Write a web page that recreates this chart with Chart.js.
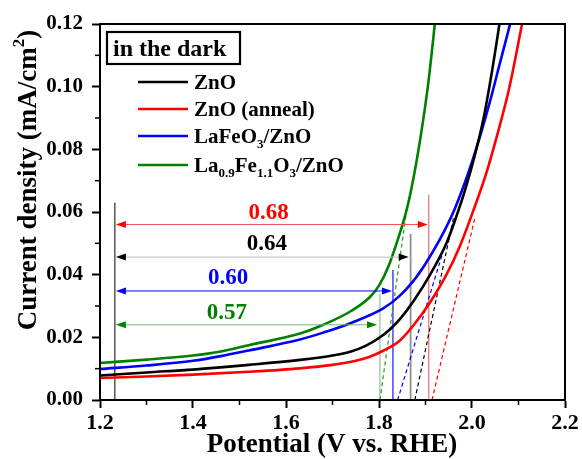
<!DOCTYPE html>
<html>
<head>
<meta charset="utf-8">
<script src="https://cdn.jsdelivr.net/npm/chart.js@4/dist/chart.umd.min.js"></script>
<style>
html,body{margin:0;padding:0;background:#fff;}
canvas{display:block;}
</style>
</head>
<body>
<canvas id="c" width="582" height="459"></canvas>
<script>
// ---- data ----
const seriesNames = ['ZnO', 'ZnO (anneal)', 'LaFeO3/ZnO', 'La0.9Fe1.1O3/ZnO'];
const seriesColors = ['#000000', '#ff0000', '#0000ff', '#008000'];

const znoX = [1.20, 1.30, 1.40, 1.52, 1.63, 1.70, 1.74, 1.77, 1.80, 1.824, 1.845, 1.874, 1.91, 1.945, 1.965, 1.985, 2.005, 2.025, 2.042, 2.058, 2.066];
const znoY = [0.0078, 0.0088, 0.0097, 0.0112, 0.0128, 0.0142, 0.0155, 0.0172, 0.0198, 0.0226, 0.0258, 0.0315, 0.0400, 0.0500, 0.0580, 0.0670, 0.0775, 0.0900, 0.1040, 0.1190, 0.1270];

const annealX = [1.20, 1.30, 1.40, 1.52, 1.63, 1.70, 1.74, 1.78, 1.81, 1.845, 1.875, 1.91, 1.945, 1.975, 2.003, 2.032, 2.055, 2.08, 2.105, 2.115];
const annealY = [0.0070, 0.0075, 0.0081, 0.0090, 0.0101, 0.0112, 0.0122, 0.0138, 0.0158, 0.0190, 0.0240, 0.0312, 0.0400, 0.0495, 0.0605, 0.0730, 0.0850, 0.0995, 0.1180, 0.1260];

const lfoX = [1.20, 1.30, 1.40, 1.46, 1.52, 1.63, 1.68, 1.74, 1.81, 1.845, 1.874, 1.90, 1.93, 1.96, 1.98, 2.00, 2.02, 2.04, 2.06, 2.082, 2.092];
const lfoY = [0.0099, 0.0110, 0.0125, 0.0140, 0.0158, 0.0193, 0.0215, 0.0246, 0.0293, 0.0333, 0.0380, 0.0435, 0.0510, 0.0600, 0.0675, 0.0760, 0.0855, 0.0960, 0.1075, 0.1200, 0.1260];

const lfo2X = [1.20, 1.30, 1.40, 1.46, 1.52, 1.63, 1.68, 1.74, 1.78, 1.80, 1.82, 1.84, 1.86, 1.875, 1.89, 1.905, 1.92, 1.928];
const lfo2Y = [0.0118, 0.0129, 0.0142, 0.0155, 0.0175, 0.0212, 0.0240, 0.0284, 0.0328, 0.0365, 0.0425, 0.0510, 0.0610, 0.0715, 0.0845, 0.1000, 0.1200, 0.1320];

// tangent (dashed) lines: x-intercept, and top end point
const tangentX0 = [1.877, 1.914, 1.840, 1.802];
const tangentX1 = [1.960, 2.006, 1.935, 1.858];
const tangentY1 = [0.058, 0.058, 0.046, 0.059];

// onset markers (vertical lines) and gap arrows
const refX = 1.232, refTop = 0.063;
const gapLabels = ['0.68', '0.64', '0.60', '0.57'];
const gapColors = ['#ff0000', '#000000', '#0000ff', '#008000'];
const gapLineColors = ['#f05050', '#bdbdbd', '#0000ff', '#70b870'];
const onsetX = [1.907, 1.868, 1.830, 1.802];
const onsetTop = [0.0655, 0.053, 0.0415, 0.034];
const onsetColors = ['#e86060', '#909090', '#0000ff', '#80c080'];
const arrowY = [0.056, 0.0456, 0.0348, 0.024];
const arrowEnd = [1.907, 1.866, 1.830, 1.798];
const labelX = [1.5628, 1.559, 1.4753, 1.4731];
const labelY = [0.0601, 0.0501, 0.0393, 0.0281];

const xTicks = [1.2, 1.4, 1.6, 1.8, 2.0, 2.2];
const yTicks = [0.00, 0.02, 0.04, 0.06, 0.08, 0.10, 0.12];

// ---- build ----
const FONT = '"Liberation Serif", "Times New Roman", serif';
const pts = (xs, ys) => xs.map((x, i) => ({x: x, y: ys[i]}));
const curveData = [pts(znoX, znoY), pts(annealX, annealY), pts(lfoX, lfoY), pts(lfo2X, lfo2Y)];
const tangentColors = ['#000000', '#ff0000', '#0000ff', '#2a9a2a'];

const datasets = [];
curveData.forEach((d, i) => datasets.push({
  label: seriesNames[i], data: d, borderColor: seriesColors[i], borderWidth: 2.6,
  pointRadius: 0, showLine: true, cubicInterpolationMode: 'monotone', fill: false
}));
tangentX0.forEach((x0, i) => datasets.push({
  label: 'tangent' + i, data: [{x: x0, y: 0}, {x: tangentX1[i], y: tangentY1[i]}],
  borderColor: tangentColors[i], borderWidth: 1.2, borderDash: [4, 3],
  pointRadius: 0, showLine: true, fill: false
}));
onsetX.forEach((x, i) => datasets.push({
  label: 'onset' + i, data: [{x: x, y: 0}, {x: x, y: onsetTop[i]}],
  borderColor: onsetColors[i], borderWidth: i === 1 ? 1.8 : 1.1,
  pointRadius: 0, showLine: true, fill: false
}));
datasets.push({
  label: 'ref', data: [{x: refX, y: 0}, {x: refX, y: refTop}],
  borderColor: '#000', borderWidth: 1, pointRadius: 0, showLine: true, fill: false
});

function arrowHead(ctx, x, y, dir, color) {
  ctx.save();
  ctx.fillStyle = color;
  ctx.beginPath();
  ctx.moveTo(x, y);
  ctx.lineTo(x - dir * 10, y - 3.5);
  ctx.lineTo(x - dir * 10, y + 3.5);
  ctx.closePath();
  ctx.fill();
  ctx.restore();
}

// draws text pieces [text, isSub] starting at x (left), baseline y
function richText(ctx, parts, x, y, size) {
  let cx = x;
  parts.forEach(p => {
    if (p[1]) {
      ctx.font = 'bold ' + Math.round(size * 0.62) + 'px ' + FONT;
      ctx.fillText(p[0], cx, y + size * 0.22);
    } else {
      ctx.font = 'bold ' + size + 'px ' + FONT;
      ctx.fillText(p[0], cx, y);
    }
    cx += ctx.measureText(p[0]).width;
  });
  return cx - x;
}

const decor = {
  id: 'decor',
  afterDraw(chart) {
    const ctx = chart.ctx, xs = chart.scales.x, ys = chart.scales.y, a = chart.chartArea;
    ctx.save();
    // frame
    ctx.strokeStyle = '#000'; ctx.lineWidth = 2;
    ctx.strokeRect(a.left, a.top, a.right - a.left, a.bottom - a.top);
    // minor ticks
    ctx.lineWidth = 1.5;
    for (let i = 0; i < xTicks.length - 1; i++) {
      const px = xs.getPixelForValue((xTicks[i] + xTicks[i + 1]) / 2);
      ctx.beginPath(); ctx.moveTo(px, a.bottom); ctx.lineTo(px, a.bottom + 5); ctx.stroke();
    }
    for (let i = 0; i < yTicks.length - 1; i++) {
      const py = ys.getPixelForValue((yTicks[i] + yTicks[i + 1]) / 2);
      ctx.beginPath(); ctx.moveTo(a.left, py); ctx.lineTo(a.left - 5, py); ctx.stroke();
    }
    // gap arrows
    const x0 = xs.getPixelForValue(refX);
    arrowY.forEach((v, i) => {
      const py = ys.getPixelForValue(v);
      const x1 = xs.getPixelForValue(arrowEnd[i]);
      ctx.strokeStyle = gapLineColors[i]; ctx.lineWidth = 1;
      ctx.beginPath(); ctx.moveTo(x0 + 4, py); ctx.lineTo(x1 - 4, py); ctx.stroke();
      arrowHead(ctx, x0 + 1, py, -1, gapColors[i]);
      arrowHead(ctx, x1 - 1, py, 1, gapColors[i]);
      ctx.fillStyle = gapColors[i];
      ctx.font = 'bold 23px ' + FONT;
      ctx.textAlign = 'center'; ctx.textBaseline = 'middle';
      ctx.fillText(gapLabels[i], xs.getPixelForValue(labelX[i]), ys.getPixelForValue(labelY[i]) + 1);
    });
    // legend
    ctx.textAlign = 'left'; ctx.textBaseline = 'alphabetic';
    ctx.lineWidth = 2.2; ctx.strokeStyle = '#000';
    ctx.strokeRect(107, 32, 133, 32);
    ctx.fillStyle = '#000';
    ctx.font = 'bold 24px ' + FONT;
    ctx.fillText('in the dark', 113, 56);
    const rowsY = [82, 109, 136, 165];
    const labels = [
      [['ZnO', false]],
      [['ZnO (anneal)', false]],
      [['LaFeO', false], ['3', true], ['/ZnO', false]],
      [['La', false], ['0.9', true], ['Fe', false], ['1.1', true], ['O', false], ['3', true], ['/ZnO', false]]
    ];
    rowsY.forEach((ry, i) => {
      ctx.strokeStyle = seriesColors[i]; ctx.lineWidth = 2.6;
      ctx.beginPath(); ctx.moveTo(138, ry); ctx.lineTo(188, ry); ctx.stroke();
      ctx.fillStyle = '#000';
      richText(ctx, labels[i], 194, ry + 7, 21);
    });
    // axis titles
    ctx.fillStyle = '#000';
    ctx.font = 'bold 27px ' + FONT;
    ctx.textAlign = 'center'; ctx.textBaseline = 'middle';
    ctx.fillText('Potential (V vs. RHE)', 332, 445);
    ctx.save();
    ctx.translate(29, 180); ctx.rotate(-Math.PI / 2);
    ctx.textAlign = 'left'; ctx.textBaseline = 'middle';
    const t1 = 'Current density (mA/cm', t2 = '2', t3 = ')';
    ctx.font = 'bold 27px ' + FONT; const w1 = ctx.measureText(t1).width, w3 = ctx.measureText(t3).width;
    ctx.font = 'bold 17px ' + FONT; const w2 = ctx.measureText(t2).width;
    let sx = -(w1 + w2 + w3) / 2;
    ctx.font = 'bold 27px ' + FONT; ctx.fillText(t1, sx, 0); sx += w1;
    ctx.font = 'bold 17px ' + FONT; ctx.fillText(t2, sx, -9); sx += w2;
    ctx.font = 'bold 27px ' + FONT; ctx.fillText(t3, sx, 0);
    ctx.restore();
    ctx.restore();
  }
};

new Chart(document.getElementById('c'), {
  type: 'scatter',
  data: {datasets: datasets},
  options: {
    responsive: false, animation: false,
    layout: {padding: {top: 24, right: 17, left: 0, bottom: 0}},
    plugins: {legend: {display: false}, tooltip: {enabled: false}},
    scales: {
      x: {
        type: 'linear', min: 1.2, max: 2.2,
        afterBuildTicks: s => { s.ticks = xTicks.map(v => ({value: v})); },
        afterFit: s => { s.height = 59; },
        grid: {drawOnChartArea: false, drawTicks: true, tickLength: 8, tickWidth: 2, tickColor: '#000'},
        border: {display: true, color: '#000', width: 2},
        ticks: {color: '#000', padding: 2, maxRotation: 0, font: {family: FONT, size: 22, weight: 'bold'},
          callback: v => Number(v).toFixed(1)}
      },
      y: {
        type: 'linear', min: 0, max: 0.12,
        afterBuildTicks: s => { s.ticks = yTicks.map(v => ({value: v})); },
        afterFit: s => { s.width = 100; },
        grid: {drawOnChartArea: false, drawTicks: true, tickLength: 8, tickWidth: 2, tickColor: '#000'},
        border: {display: true, color: '#000', width: 2},
        ticks: {color: '#000', padding: 9, font: {family: FONT, size: 21, weight: 'bold'},
          callback: v => Number(v).toFixed(2)}
      }
    }
  },
  plugins: [decor]
});
</script>
</body>
</html>
